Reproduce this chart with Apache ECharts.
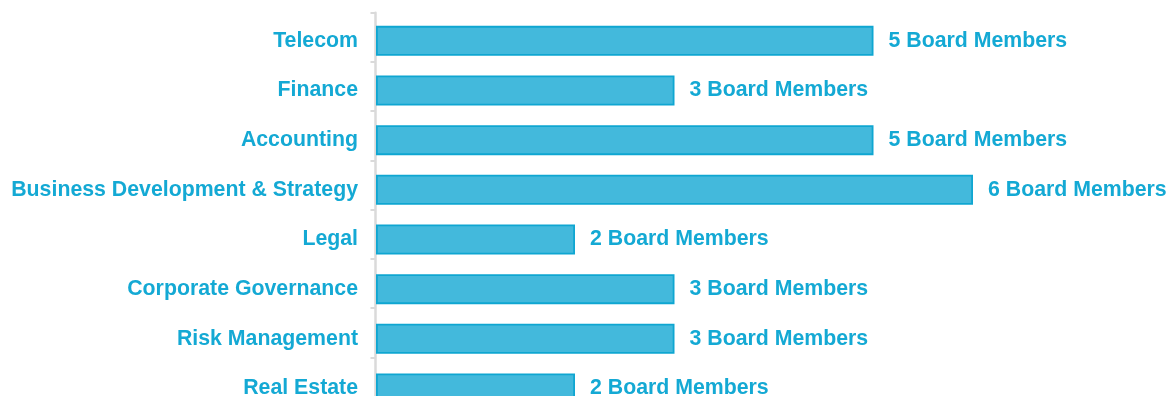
<!DOCTYPE html>
<html>
<head>
<meta charset="utf-8">
<style>
  html, body { margin: 0; padding: 0; background: #ffffff; }
  #chart { width: 1170px; height: 396px; }
</style>
<script src="https://cdn.jsdelivr.net/npm/echarts@6/dist/echarts.min.js"></script>
</head>
<body>
<div id="chart"></div>
<script>
// Board members by area of expertise
const categories = [
  'Telecom',
  'Finance',
  'Accounting',
  'Business Development & Strategy',
  'Legal',
  'Corporate Governance',
  'Risk Management',
  'Real Estate'
];
const members = [5, 3, 5, 6, 2, 3, 3, 2];
const valueSuffix = ' Board Members';

const textColor = '#14a9d4';
const barFill = '#43b9dc';
const barBorder = '#0fa6d1';
const axisGray = '#dadada';
const font = 'Liberation Sans, Arial, Helvetica, sans-serif';

const chart = echarts.init(document.getElementById('chart'), null, { renderer: 'canvas' });

chart.setOption({
  backgroundColor: '#ffffff',
  animation: false,
  grid: [
    // bars and their labels
    { left: 376, top: 16, width: 597, height: 397.3, containLabel: false, outerBoundsMode: 'none' },
    // axis line with tick marks between categories
    { left: 375.5, top: 12.7, width: 597, height: 393.8, containLabel: false, outerBoundsMode: 'none' }
  ],
  xAxis: [
    { gridIndex: 0, type: 'value', min: 0, max: 6, show: false },
    { gridIndex: 1, type: 'value', min: 0, max: 6, show: false }
  ],
  yAxis: [
    {
      gridIndex: 0,
      type: 'category',
      data: categories,
      inverse: true,
      axisLine: { show: false },
      axisTick: { show: false },
      splitLine: { show: false },
      axisLabel: {
        margin: 18,
        color: textColor,
        fontFamily: font,
        fontWeight: 'bold',
        fontSize: 21.3
      }
    },
    {
      gridIndex: 1,
      type: 'category',
      data: categories,
      inverse: true,
      axisLine: { show: true, lineStyle: { color: axisGray, width: 2.5 } },
      axisTick: { show: true, length: 5, lineStyle: { color: axisGray, width: 2 } },
      splitLine: { show: false },
      axisLabel: { show: false }
    }
  ],
  series: [
    {
      type: 'bar',
      xAxisIndex: 0,
      yAxisIndex: 0,
      data: members,
      barWidth: 30,
      itemStyle: {
        color: barFill,
        borderColor: barBorder,
        borderWidth: 1.8
      },
      label: {
        show: true,
        position: 'right',
        distance: 15,
        formatter: (p) => p.value + valueSuffix,
        color: textColor,
        fontFamily: font,
        fontWeight: 'bold',
        fontSize: 21.3
      }
    }
  ]
});
</script>
</body>
</html>
